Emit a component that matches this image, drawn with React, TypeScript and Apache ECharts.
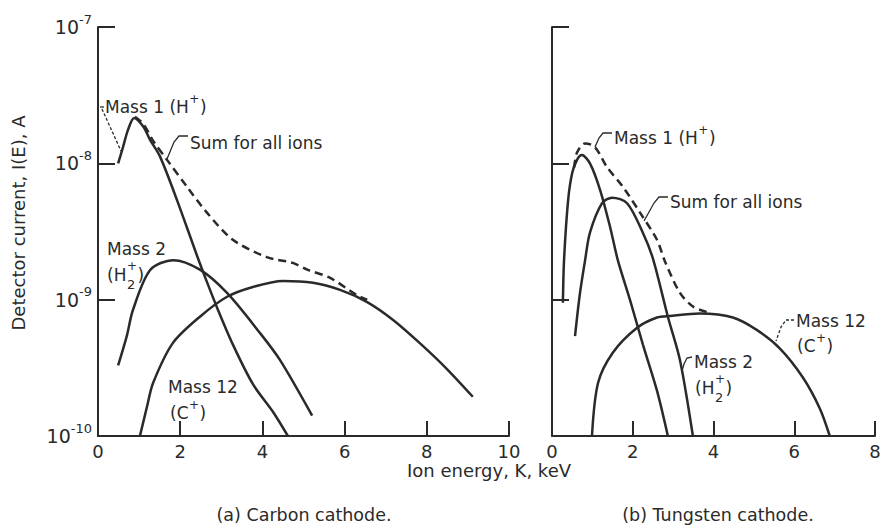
import React, { useEffect, useRef } from "react";
import * as echarts from "echarts";

// ---------- data (ion energy K in keV, detector current I(E) in A) ----------
const xTicksCarbon = [0, 2, 4, 6, 8, 10];
const xTicksTungsten = [0, 2, 4, 6, 8];
const yDecades = [1e-10, 1e-9, 1e-8, 1e-7];

const mass1Carbon: [number, number][] = [
  [0.49, 1.0e-8], [0.61, 1.32e-8], [0.73, 1.76e-8], [0.88, 2.15e-8], [1.1, 1.86e-8],
  [1.27, 1.48e-8], [1.51, 1.12e-8], [1.92, 5.4e-9], [2.41, 2.1e-9], [2.65, 1.35e-9],
  [2.9, 8.7e-10], [3.28, 4.7e-10], [3.77, 2.4e-10], [4.26, 1.5e-10], [4.62, 1.0e-10],
];
const mass2Carbon: [number, number][] = [
  [0.49, 3.3e-10], [0.7, 5.4e-10], [0.85, 8.4e-10], [1.27, 1.65e-9], [1.83, 1.95e-9],
  [2.48, 1.66e-9], [3.14, 1.12e-9], [3.94, 5.7e-10], [4.43, 3.6e-10], [5.21, 1.41e-10],
];
const mass12Carbon: [number, number][] = [
  [1.02, 1.0e-10], [1.19, 1.63e-10], [1.34, 2.45e-10], [1.82, 4.8e-10], [2.48, 7.5e-10],
  [3.14, 1.05e-9], [3.77, 1.24e-9], [4.5, 1.37e-9], [5.23, 1.33e-9], [5.89, 1.18e-9],
  [6.55, 9.6e-10], [7.18, 7.1e-10], [7.83, 4.8e-10], [8.49, 3.1e-10], [9.12, 1.94e-10],
];
const sumCarbon: [number, number][] = [
  [0.9, 2.2e-8], [1.1, 1.95e-8], [1.35, 1.45e-8], [1.68, 1.06e-8], [2.17, 6.7e-9],
  [2.65, 4.35e-9], [3.28, 2.75e-9], [4.11, 2.05e-9], [4.74, 1.86e-9], [5.09, 1.66e-9],
  [5.64, 1.45e-9], [6.3, 1.08e-9], [6.55, 1.0e-9],
];

const mass1Tungsten: [number, number][] = [
  [0.27, 9.5e-10], [0.3, 2.0e-9], [0.4, 5.4e-9], [0.5, 8.5e-9], [0.62, 1.06e-8],
  [0.74, 1.15e-8], [0.94, 1.0e-8], [1.19, 6.4e-9], [1.44, 3.4e-9], [1.63, 1.95e-9],
  [1.93, 1.0e-9], [2.25, 4.7e-10], [2.6, 2.15e-10], [2.87, 1.0e-10],
];
const mass2Tungsten: [number, number][] = [
  [0.57, 5.4e-10], [0.69, 1.1e-9], [0.82, 1.95e-9], [0.94, 3.1e-9], [1.24, 5.1e-9],
  [1.49, 5.6e-9], [1.86, 5.1e-9], [2.25, 3.1e-9], [2.5, 2.0e-9], [2.87, 7.5e-10],
  [3.17, 3.6e-10], [3.49, 1.0e-10],
];
const mass12Tungsten: [number, number][] = [
  [0.99, 1.0e-10], [1.14, 2.45e-10], [1.51, 4.1e-10], [2.1, 6.2e-10], [2.6, 7.4e-10],
  [2.92, 7.6e-10], [3.66, 7.9e-10], [4.48, 7.4e-10], [5.07, 6.0e-10], [5.64, 4.4e-10],
  [6.21, 2.7e-10], [6.63, 1.6e-10], [6.88, 1.0e-10],
];
const sumTungsten: [number, number][] = [
  [0.55, 9.3e-9], [0.62, 1.2e-8], [0.82, 1.4e-8], [1.06, 1.32e-8], [1.36, 9.4e-9],
  [1.76, 6.7e-9], [2.18, 4.35e-9], [2.6, 2.75e-9], [2.8, 1.9e-9], [3.17, 1.12e-9],
  [3.49, 8.9e-10], [3.84, 8.1e-10],
];

// ---------- styling ----------
const FONT_NAME = "DejaVu Sans";
const F = `${FONT_NAME}, sans-serif`;
const C = "#2a2a2a";

let measureCtx: CanvasRenderingContext2D | null = null;
function textWidth(s: string, size: number): number {
  if (!measureCtx) measureCtx = document.createElement("canvas").getContext("2d");
  if (!measureCtx) return s.length * size * 0.6;
  measureCtx.font = `${size}px "${FONT_NAME}"`;
  return measureCtx.measureText(s).width;
}

function xAxisOf(gridIndex: number, ticks: number[]) {
  return {
    gridIndex,
    type: "value",
    min: ticks[0],
    max: ticks[ticks.length - 1],
    interval: ticks[1] - ticks[0],
    axisLine: { show: true, onZero: false, lineStyle: { color: C, width: 2 } },
    axisTick: { show: true, inside: true, length: 15, lineStyle: { color: C, width: 2 } },
    axisLabel: { fontSize: 18, fontFamily: F, color: C, margin: 6 },
    splitLine: { show: false },
  };
}

function yAxisOf(gridIndex: number, showLabels: boolean) {
  return {
    gridIndex,
    type: "log",
    logBase: 10,
    min: yDecades[0],
    max: yDecades[yDecades.length - 1],
    axisLine: { show: true, onZero: false, lineStyle: { color: C, width: 2 } },
    axisTick: { show: true, inside: true, length: 17, lineStyle: { color: C, width: 2 } },
    minorTick: { show: false },
    splitLine: { show: false },
    axisLabel: {
      show: showLabels,
      margin: 6,
      formatter: (v: number) => `{b|10}{e|${Math.round(Math.log10(v))}}`,
      rich: {
        b: { fontSize: 19, fontFamily: F, color: C },
        e: { fontSize: 13, fontFamily: F, color: C, padding: [0, 0, 16, 0] },
      },
    },
  };
}

function line(name: string, data: [number, number][], idx: number, dashed: boolean) {
  return {
    name,
    type: "line",
    xAxisIndex: idx,
    yAxisIndex: idx,
    data,
    symbol: "none",
    smooth: 0.3,
    clip: false,
    lineStyle: { color: C, width: 2.5, type: dashed ? [8, 5] : "solid" },
  };
}

function txt(x: number, y: number, s: string, size = 17, align = "left", rotation = 0) {
  return {
    type: "text",
    x,
    y,
    rotation,
    style: { text: s, fontSize: size, fontFamily: F, fill: C, align, verticalAlign: "middle" },
  };
}

// "before" + raised small sign + "after", laid out as separate adjacent texts
function supLabel(x: number, y: number, before: string, sup: string, after: string) {
  const w1 = textWidth(before, 17);
  const w2 = textWidth(sup, 12);
  return [
    txt(x, y, before, 17),
    txt(x + w1 + 0.5, y - 8, sup, 12),
    txt(x + w1 + w2 + 1, y, after, 17),
  ];
}

// "(H" with a stacked + above and 2 below, then ")"
function h2Label(x: number, y: number) {
  const w1 = textWidth("(H", 17);
  const w2 = Math.max(textWidth("+", 12), textWidth("2", 13));
  return [
    txt(x, y, "(H", 17),
    txt(x + w1 + 0.5, y - 9, "+", 12),
    txt(x + w1 + 0.5, y + 9, "2", 13),
    txt(x + w1 + w2 + 1, y, ")", 17),
  ];
}

function leader(points: number[][], dashed = false) {
  return {
    type: "polyline",
    shape: { points },
    style: { stroke: C, lineWidth: 1.3, fill: null, lineDash: dashed ? [3, 2] : null },
  };
}

export default function App() {
  const ref = useRef<HTMLDivElement>(null);

  useEffect(() => {
    if (!ref.current) return;
    const chart = echarts.init(ref.current, undefined, { renderer: "svg" });
    chart.setOption({
      animation: false,
      backgroundColor: "#ffffff",
      grid: [
        { left: 98, top: 27, width: 411, height: 409 },
        { left: 552, top: 27, width: 323, height: 409 },
      ],
      xAxis: [xAxisOf(0, xTicksCarbon), xAxisOf(1, xTicksTungsten)],
      yAxis: [yAxisOf(0, true), yAxisOf(1, false)],
      series: [
        line("Mass 1 (H+) carbon", mass1Carbon, 0, false),
        line("Mass 2 (H2+) carbon", mass2Carbon, 0, false),
        line("Mass 12 (C+) carbon", mass12Carbon, 0, false),
        line("Sum for all ions carbon", sumCarbon, 0, true),
        line("Mass 1 (H+) tungsten", mass1Tungsten, 1, false),
        line("Mass 2 (H2+) tungsten", mass2Tungsten, 1, false),
        line("Mass 12 (C+) tungsten", mass12Tungsten, 1, false),
        line("Sum for all ions tungsten", sumTungsten, 1, true),
      ],
      graphic: [
        // axis titles and captions
        txt(18, 223, "Detector current, I(E), A", 18, "center", Math.PI / 2),
        txt(489, 470, "Ion energy, K, keV", 18, "center"),
        txt(304, 515, "(a) Carbon cathode.", 17.5, "center"),
        txt(718, 515, "(b) Tungsten cathode.", 17.5, "center"),
        // carbon cathode annotations
        ...supLabel(105, 107, "Mass 1 (H", "+", ")"),
        leader([[100, 107], [104, 107]]),
        leader([[102, 109], [121, 151]], true),
        txt(190, 143, "Sum for all ions"),
        leader([[188, 136], [179, 136], [174, 142], [167, 159]]),
        txt(107, 249, "Mass 2"),
        ...h2Label(107, 275),
        txt(168, 387, "Mass 12"),
        ...supLabel(170, 413, "(C", "+", ")"),
        // tungsten cathode annotations
        ...supLabel(614, 138, "Mass 1 (H", "+", ")"),
        leader([[612, 133], [603, 133], [599, 138], [595, 147]]),
        txt(670, 202, "Sum for all ions"),
        leader([[668, 197], [659, 197], [654, 203], [644, 221]]),
        txt(796, 321, "Mass 12"),
        ...supLabel(797, 346, "(C", "+", ")"),
        leader([[794, 320], [786, 320], [781, 327], [776, 341]], true),
        txt(694, 362, "Mass 2"),
        leader([[692, 357], [687, 358], [684, 364], [682, 371]]),
        ...h2Label(695, 388),
      ],
    });
    return () => chart.dispose();
  }, []);

  return (
    <div
      ref={ref}
      style={{ position: "fixed", left: 0, top: 0, width: 884, height: 527, background: "#fff" }}
    />
  );
}
